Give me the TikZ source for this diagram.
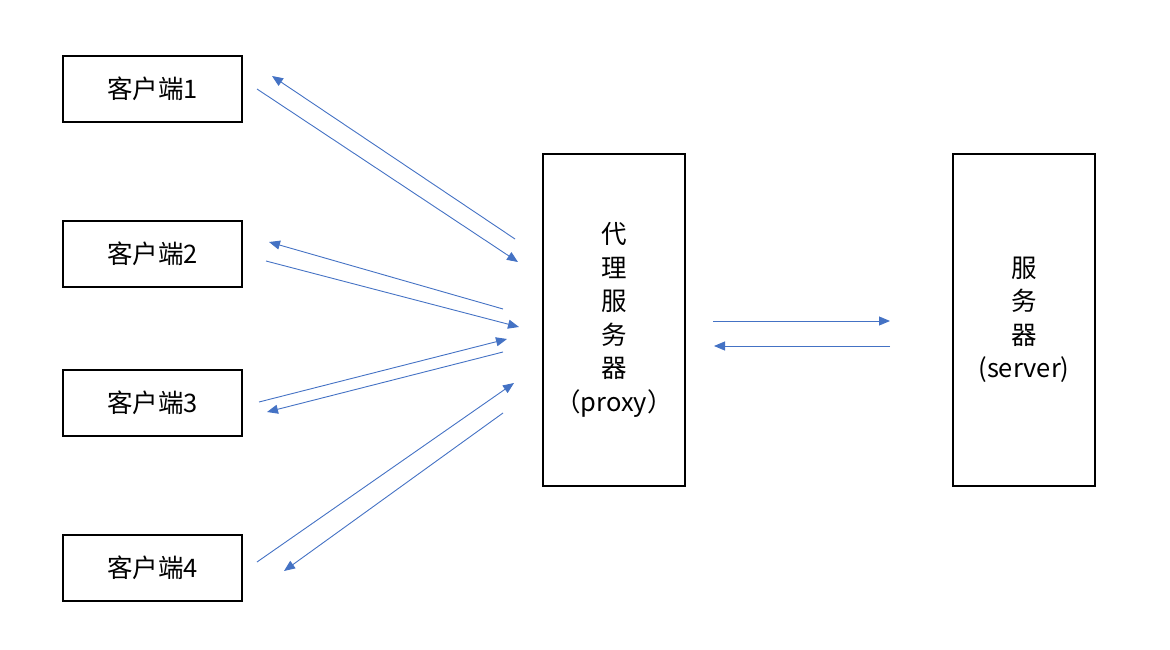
\documentclass[tikz,border=0pt]{standalone}
\usepackage{fontspec}
\setmainfont{Noto Sans CJK SC}
\usetikzlibrary{arrows.meta, positioning}
\definecolor{linkblue}{HTML}{4472C4}

\begin{document}
\begin{tikzpicture}[x=1pt, y=-1pt,
    box/.style={draw, line width=2pt, minimum width=179pt, minimum height=66pt,
      inner sep=0pt, font=\fontsize{25.5}{33.5}\selectfont},
    tallbox/.style={box, minimum width=142pt, minimum height=332pt, align=center},
    link/.style={-{Triangle[length=11pt, width=9pt]}, color=linkblue, line width=0.9pt}]
      \useasboundingbox (0,0) rectangle (1170,650);
      \node[box]     (c_1)    at (152.5,89)  {客户端1};
      \node[box]     (c_2)    at (152.5,254) {客户端2};
      \node[box]     (c_3)    at (152.5,403) {客户端3};
      \node[box]     (c_4)    at (152.5,568) {客户端4};
      \node[tallbox] (proxy)  at (614,320)   {代\\理\\服\\务\\器\\（proxy）};
      \node[tallbox] (server) at (1024,320)  {服\\务\\器\\(server)};
      % free ends of the links
      \coordinate (a_1) at (515,239);  \coordinate (b_1) at (272,76);
      \coordinate (a_2) at (257,89);   \coordinate (b_2) at (518,262);
      \coordinate (a_3) at (503,309);  \coordinate (b_3) at (269,242);
      \coordinate (a_4) at (266,261);  \coordinate (b_4) at (519,327);
      \coordinate (a_5) at (259,402);  \coordinate (b_5) at (507,339);
      \coordinate (a_6) at (503,352);  \coordinate (b_6) at (267,412);
      \coordinate (a_7) at (257,562);  \coordinate (b_7) at (514,383);
      \coordinate (a_8) at (503,413);  \coordinate (b_8) at (284,571);
      \coordinate (a_9) at (713,321);  \coordinate (b_9) at (890,321);
      \coordinate (a_10) at (890,346); \coordinate (b_10) at (714,346);
      \path
        (a_1) edge[link] (b_1)
        (a_2) edge[link] (b_2)
        (a_3) edge[link] (b_3)
        (a_4) edge[link] (b_4)
        (a_5) edge[link] (b_5)
        (a_6) edge[link] (b_6)
        (a_7) edge[link] (b_7)
        (a_8) edge[link] (b_8)
        (a_9) edge[link] (b_9)
        (a_10) edge[link] (b_10);
\end{tikzpicture}
\end{document}
